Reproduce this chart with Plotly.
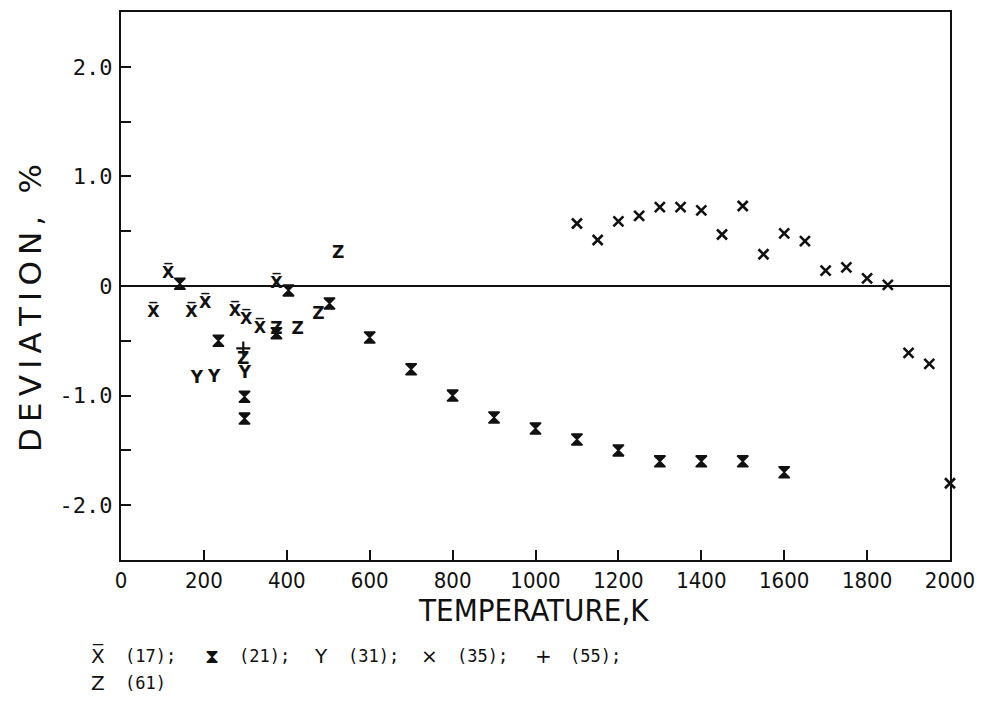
import plotly.graph_objects as go

# Deviation (%) of each data set from the reference correlation, vs temperature (K)
t17 = [78, 114, 170, 203, 275, 302, 335, 375]
d17 = [-0.25, 0.11, -0.25, -0.16, -0.24, -0.31, -0.39, 0.02]

t21 = [142, 235, 298, 298, 375, 404, 503, 600, 700, 800, 900, 1000, 1100,
       1200, 1300, 1400, 1500, 1600]
d21 = [0.02, -0.50, -1.01, -1.21, -0.43, -0.04, -0.16, -0.47, -0.76, -1.00,
       -1.20, -1.30, -1.40, -1.50, -1.60, -1.60, -1.60, -1.70]

t31 = [183, 225, 299]
d31 = [-0.85, -0.84, -0.80]

t35 = [1100, 1150, 1200, 1250, 1300, 1350, 1400, 1450, 1500, 1550, 1600,
       1650, 1700, 1750, 1800, 1850, 1900, 1950, 2000]
d35 = [0.57, 0.42, 0.59, 0.64, 0.72, 0.72, 0.69, 0.47, 0.73, 0.29, 0.48,
       0.41, 0.14, 0.17, 0.07, 0.01, -0.61, -0.71, -1.80]

t55 = [295]
d55 = [-0.57]

t61 = [295, 375, 426, 476, 524]
d61 = [-0.67, -0.40, -0.40, -0.26, 0.29]

x_ticks = [0, 200, 400, 600, 800, 1000, 1200, 1400, 1600, 1800, 2000]
y_ticks = [-2, -1, 0, 1, 2]
y_ticktext = ["-2.0", "-1.0", "0", "1.0", "2.0"]

legend_refs = ["(17);", "(21);", "(31);", "(35);", "(55);", "(61)"]

INK = "#111111"
MONO = "DejaVu Sans Mono"
NARROW = "Liberation Sans Narrow, DejaVu Sans Condensed, DejaVu Sans"

fig = go.Figure()


def glyph_trace(x, y, glyph, size):
    return go.Scatter(x=x, y=y, mode="text", text=[glyph] * len(x),
                      textposition="middle center",
                      textfont=dict(family="DejaVu Sans", size=size,
                                    color=INK, weight="bold"),
                      showlegend=False, cliponaxis=False)


def marker_trace(x, y, symbol, size, lw):
    return go.Scatter(x=x, y=y, mode="markers", showlegend=False,
                      cliponaxis=False,
                      marker=dict(symbol=symbol, size=size, color=INK,
                                  line=dict(color=INK, width=lw)))


fig.add_trace(glyph_trace(t17, d17, "X\u0305", 16))
fig.add_trace(marker_trace(t21, d21, "hourglass", 11, 1.5))
fig.add_trace(glyph_trace(t31, d31, "Y", 17))
fig.add_trace(marker_trace(t35, d35, "x-thin", 10, 2.6))
fig.add_trace(marker_trace(t55, d55, "cross-thin", 10, 2.2))
fig.add_trace(glyph_trace(t61, d61, "Z", 17))

# Plot frame geometry (pixels) used to place the text blocks
L, R, T, B = 121, 34, 10, 144
W, H = 985 - L - R, 704 - T - B


def px(x):
    return (x - L) / W


def py(y):
    return (704 - B - y) / H


# Spaced-out lettering for the vertical axis title
y_title = "\u2009".join("DEVIATION, %")

annotations = [
    dict(text=y_title, x=px(30), y=py(307), xref="paper", yref="paper",
         textangle=-90, showarrow=False, xanchor="center", yanchor="middle",
         font=dict(family="DejaVu Sans", size=31, color=INK)),
    dict(text="TEMPERATURE,K", x=px(534), y=py(610), xref="paper",
         yref="paper", showarrow=False, xanchor="center", yanchor="middle",
         font=dict(family=NARROW, size=31, color=INK)),
]

legend_glyphs = ["X\u0305", "\u29D7", "Y", "\u00D7", "+", "Z"]
legend_x = [98, 212, 321, 430, 544, 98]
legend_y = [656, 656, 656, 656, 656, 683]
for g, ref, gx, gy in zip(legend_glyphs, legend_refs, legend_x, legend_y):
    annotations.append(dict(text=g, x=px(gx), y=py(gy), xref="paper",
                            yref="paper", showarrow=False, xanchor="center",
                            yanchor="middle",
                            font=dict(family="DejaVu Sans", size=20,
                                      color=INK)))
    annotations.append(dict(text=ref, x=px(gx + 25), y=py(gy), xref="paper",
                            yref="paper", showarrow=False, xanchor="left",
                            yanchor="middle",
                            font=dict(family=MONO, size=17, color=INK)))

fig.update_layout(
    width=985, height=704,
    margin=dict(l=L, r=R, t=T, b=B, pad=0),
    paper_bgcolor="white", plot_bgcolor="white",
    showlegend=False,
    annotations=annotations,
    xaxis=dict(range=[0, 2000], tickvals=x_ticks, ticks="inside", ticklen=10,
               tickwidth=1.5, tickcolor=INK, showgrid=False, zeroline=False,
               showline=True, linecolor=INK, linewidth=2, mirror=True,
               tickfont=dict(family=NARROW, size=22, color=INK)),
    yaxis=dict(range=[-2.5, 2.5], tickvals=y_ticks, ticktext=y_ticktext,
               ticks="inside", ticklen=10, tickwidth=1.5, tickcolor=INK,
               minor=dict(dtick=0.5, tick0=0, ticks="inside", ticklen=10,
                          tickwidth=1.5, tickcolor=INK, showgrid=False),
               showgrid=False, zeroline=True, zerolinecolor=INK,
               zerolinewidth=2, showline=True, linecolor=INK, linewidth=2,
               mirror=True, ticklabelstandoff=2,
               tickfont=dict(family=MONO, size=22, color=INK)),
)

fig.write_html("out.html")
